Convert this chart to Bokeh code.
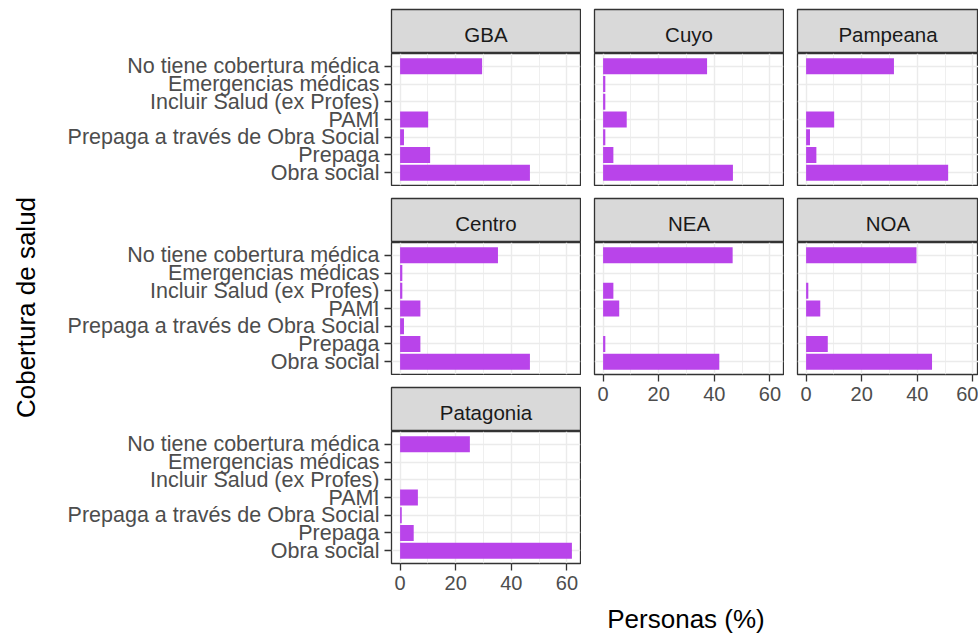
import math
from bokeh.plotting import figure
from bokeh.layouts import row, column
from bokeh.models import Spacer, FactorRange, Range1d, FixedTicker, ColumnDataSource
from bokeh.embed import file_html
from bokeh.resources import INLINE
from bokeh.core.properties import value

# ---------------- data ----------------
regions = ["GBA", "Cuyo", "Pampeana", "Centro", "NEA", "NOA", "Patagonia"]
coverage = ["No tiene cobertura médica", "Emergencias médicas", "Incluir Salud (ex Profes)",
            "PAMI", "Prepaga a través de Obra Social", "Prepaga", "Obra social"]
gba = [29.5, 0.0, 0.0, 10.1, 1.4, 10.8, 46.7]
cuyo = [37.4, 0.8, 0.8, 8.5, 0.8, 3.7, 46.7]
pampeana = [31.6, 0.0, 0.0, 10.1, 1.4, 3.7, 51.1]
centro = [35.2, 0.8, 0.8, 7.3, 1.4, 7.3, 46.7]
nea = [46.6, 0.0, 3.7, 5.8, 0.0, 0.8, 41.8]
noa = [39.7, 0.0, 0.8, 5.1, 0.0, 7.8, 45.3]
patagonia = [25.1, 0.0, 0.0, 6.4, 0.6, 4.9, 61.8]
x_ticks = [0, 20, 40, 60]
x_minor = [10, 30, 50]
x_title = "Personas (%)"
y_title = "Cobertura de salud"

# ---------------- style ----------------
FONT = "Liberation Sans"
BAR = "#B944EA"
BORDER = "#333333"
GRID = "#EBEBEB"
W0 = 50       # width of the y-title column
FW = 189      # panel frame width
FW3 = 181     # third column (cropped at window edge)
PH = 132      # panel frame height
SH = 44       # strip height
LB = 391 - W0  # left border for first column (axis labels)
BB = 40       # bottom axis space
GAPY = 11
GAPX = 12
TOP = 8

all_vals = gba + cuyo + pampeana + centro + nea + noa + patagonia
vmax = max(all_vals)
x_lo = -0.05 * vmax
x_hi = 1.05 * vmax


def bare(fw, fh, lb, rb, tb, bb, **kw):
    f = figure(x_range=Range1d(0, 1), y_range=Range1d(0, 1), frame_width=fw, frame_height=fh,
               x_axis_location=None, y_axis_location=None, toolbar_location=None,
               output_backend="svg", title=None, min_border=0, min_border_left=lb,
               min_border_right=rb, min_border_top=tb, min_border_bottom=bb,
               border_fill_color="white", **kw)
    f.xgrid.visible = False
    f.ygrid.visible = False
    return f


def strip(name, fw, lb, rb):
    s = bare(fw, SH, lb, rb, 1, 0, background_fill_color="#D9D9D9",
             outline_line_color=BORDER, outline_line_width=1.3)
    src = ColumnDataSource(dict(x=[0.5], y=[0.5], t=[name]))
    s.text(x="x", y="y", text="t", source=src, text_align="center", text_baseline="middle",
           text_font=value(FONT), text_font_size="20.5px", text_color="#1A1A1A", y_offset=3)
    return s


def panel(vals, fw, lb, rb, left_axis=False, bottom_axis=False):
    hi = x_lo + fw * (x_hi - x_lo) / FW
    p = figure(y_range=FactorRange(factors=coverage[::-1], range_padding=0.22,
                                   range_padding_units="absolute"),
               x_range=Range1d(x_lo, hi), frame_width=fw, frame_height=PH,
               x_axis_location="below" if bottom_axis else None,
               y_axis_location="left" if left_axis else None,
               toolbar_location=None, output_backend="svg", title=None,
               min_border=0, min_border_left=lb, min_border_right=rb, min_border_top=0,
               min_border_bottom=BB if bottom_axis else 1,
               background_fill_color="white", border_fill_color="white",
               outline_line_color=BORDER, outline_line_width=1.3)
    tick = FixedTicker(ticks=x_ticks, minor_ticks=x_minor)
    p.xgrid.ticker = tick
    p.xgrid.grid_line_color = GRID
    p.xgrid.grid_line_width = 1.4
    p.xgrid.minor_grid_line_color = GRID
    p.xgrid.minor_grid_line_width = 0.8
    p.ygrid.grid_line_color = GRID
    p.ygrid.grid_line_width = 1.4
    src = ColumnDataSource(dict(cat=coverage, val=vals))
    p.hbar(y="cat", left=0, right="val", height=0.9, source=src,
           fill_color=BAR, line_color=None)
    if left_axis:
        ax = p.yaxis[0]
        ax.major_label_text_font = FONT
        ax.major_label_text_font_size = "21.5px"
        ax.major_label_text_color = "#4D4D4D"
        ax.major_tick_out = 7
        ax.major_tick_in = 0
        ax.major_tick_line_color = BORDER
        ax.major_tick_line_width = 1.3
        ax.axis_line_color = None
        ax.major_label_standoff = 5
    if bottom_axis:
        ax = p.xaxis[0]
        ax.ticker = tick
        ax.major_label_text_font = FONT
        ax.major_label_text_font_size = "20px"
        ax.major_label_text_color = "#4D4D4D"
        ax.major_tick_out = 7
        ax.major_tick_in = 0
        ax.minor_tick_out = 0
        ax.minor_tick_in = 0
        ax.minor_tick_line_color = None
        ax.major_tick_line_color = BORDER
        ax.major_tick_line_width = 1.3
        ax.axis_line_color = None
        ax.major_label_standoff = 5
    return p


def title_fig(text, fw, fh, angle=0.0, x_off=0):
    t = bare(fw, fh, 0, 0, 0, 0, outline_line_color=None, background_fill_color="white")
    src = ColumnDataSource(dict(x=[0.5], y=[0.5], t=[text]))
    t.text(x="x", y="y", text="t", source=src, text_align="center", text_baseline="middle",
           text_font=value(FONT), text_font_size="26px", text_color="#000000",
           angle=angle, x_offset=x_off)
    return t


col0 = column(title_fig(y_title, W0, 614, angle=math.pi / 2), spacing=0)
col1 = column(
    Spacer(width=10, height=TOP),
    strip(regions[0], FW, LB, 1),
    panel(gba, FW, LB, 1, left_axis=True),
    Spacer(width=10, height=GAPY),
    strip(regions[3], FW, LB, 1),
    panel(centro, FW, LB, 1, left_axis=True),
    Spacer(width=10, height=GAPY),
    strip(regions[6], FW, LB, 1),
    panel(patagonia, FW, LB, 1, left_axis=True, bottom_axis=True),
    spacing=0,
)
col2 = column(
    Spacer(width=10, height=TOP),
    strip(regions[1], FW, 1, 1),
    panel(cuyo, FW, 1, 1),
    Spacer(width=10, height=GAPY),
    strip(regions[4], FW, 1, 1),
    panel(nea, FW, 1, 1, bottom_axis=True),
    Spacer(width=10, height=186),
    title_fig(x_title, FW + 2, 36, x_off=-4),
    spacing=0,
)
col3 = column(
    Spacer(width=10, height=TOP),
    strip(regions[2], FW3, 1, 0),
    panel(pampeana, FW3, 1, 0),
    Spacer(width=10, height=GAPY),
    strip(regions[5], FW3, 1, 0),
    panel(noa, FW3, 1, 0, bottom_axis=True),
    spacing=0,
)
layout = row(col0, col1, Spacer(width=GAPX, height=10), col2, Spacer(width=GAPX, height=10), col3,
             spacing=0)

open("out.html", "w").write(file_html(layout, INLINE))
